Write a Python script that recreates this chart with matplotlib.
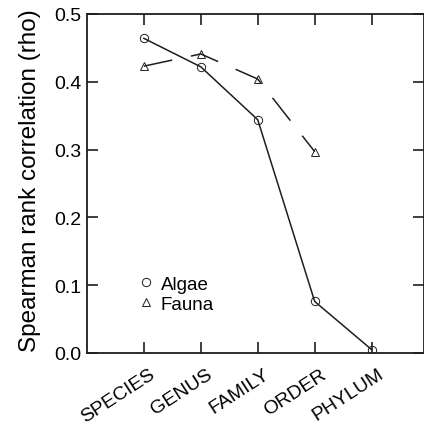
import matplotlib.pyplot as plt
from matplotlib.lines import Line2D
from matplotlib.transforms import ScaledTranslation

plt.rcParams['font.family'] = ['Liberation Sans', 'DejaVu Sans']

levels = ['SPECIES', 'GENUS', 'FAMILY', 'ORDER', 'PHYLUM']
algae = [0.464, 0.422, 0.344, 0.076, 0.005]
fauna = [0.423, 0.441, 0.404, 0.297]

ink = '#1e1e1e'

fig = plt.figure(figsize=(4.24, 4.27), dpi=100)
ax = fig.add_axes([0.205, 0.171, 0.795, 0.794])

x_algae = list(range(len(algae)))
x_fauna = list(range(len(fauna)))

ax.plot(x_algae, algae, color=ink, lw=1.1, marker='o', ms=6,
        mfc='none', mec=ink, mew=0.7)
ax.plot(x_fauna, fauna, color=ink, lw=1.1, marker='^', ms=6,
        mfc='none', mec=ink, mew=0.7, dashes=(19, 12.5))

ax.set_xlim(-1, 4.92)
ax.set_ylim(0, 0.5)
ax.set_xticks(x_algae)
ax.set_xticklabels(levels, fontsize=14)
ax.set_yticks([0.0, 0.1, 0.2, 0.3, 0.4, 0.5])
ax.set_yticklabels(['0.0', '0.1', '0.2', '0.3', '0.4', '0.5'], fontsize=14)
ax.set_ylabel('Spearman rank correlation (rho)', fontsize=17.5)
ax.yaxis.set_label_coords(-0.135, 0.51)

ax.tick_params(direction='in', length=8, width=1.2, top=True, right=True, color=ink)
ax.tick_params(axis='y', pad=4)
ax.tick_params(axis='x', pad=14)

# rotated category labels, right end a little past the tick
shift = ScaledTranslation(10 / 100, 0, fig.dpi_scale_trans)
for lab in ax.get_xticklabels():
    lab.set_rotation(33)
    lab.set_ha('right')
    lab.set_va('center')
    lab.set_rotation_mode('anchor')
    lab.set_transform(lab.get_transform() + shift)

for side in ['left', 'bottom', 'top', 'right']:
    ax.spines[side].set_linewidth(1.3)
    ax.spines[side].set_color(ink)

handles = [
    Line2D([], [], ls='none', marker='o', ms=6, mfc='none', mec=ink, mew=0.7, label='Algae'),
    Line2D([], [], ls='none', marker='^', ms=6, mfc='none', mec=ink, mew=0.7, label='Fauna'),
]
ax.legend(handles=handles, loc='upper left', bbox_to_anchor=(0.13, 0.25),
          frameon=False, fontsize=13.5, handlelength=0.8, handletextpad=0.4,
          labelspacing=0.15, borderaxespad=0)

fig.savefig('out.png', dpi=100)
